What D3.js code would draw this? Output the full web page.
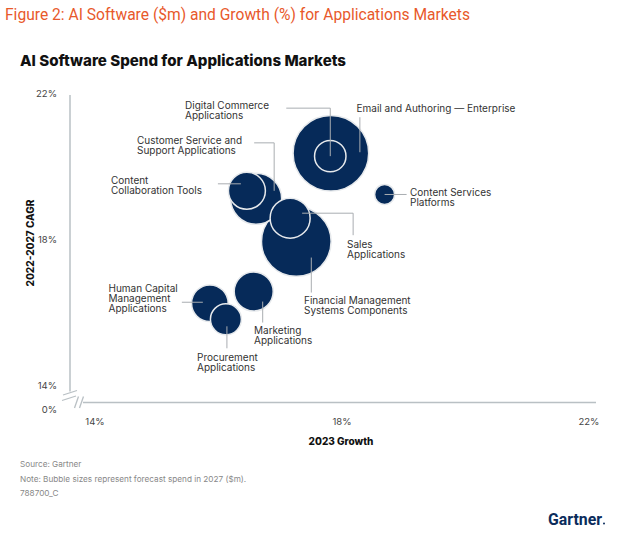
<!DOCTYPE html>
<html>
<head>
<meta charset="utf-8">
<script src="https://cdn.jsdelivr.net/npm/d3@7"></script>
<style>
  html, body { margin: 0; padding: 0; background: #fff; }
  svg { display: block; }
  text { font-family: Inter, "Noto Sans", sans-serif; }
</style>
</head>
<body>
<svg id="chart" width="620" height="536"></svg>
<script>
// ---- data ----
const categories = [
  "Email and Authoring — Enterprise",
  "Digital Commerce Applications",
  "Content Services Platforms",
  "Customer Service and Support Applications",
  "Content Collaboration Tools",
  "Sales Applications",
  "Financial Management Systems Components",
  "Marketing Applications",
  "Human Capital Management Applications",
  "Procurement Applications"
];
const growth2023 = [17.82, 17.81, 18.69, 16.61, 16.46, 17.16, 17.26, 16.57, 15.86, 16.12];
const cagr2022_2027 = [20.35, 20.27, 19.22, 19.10, 19.32, 18.57, 17.93, 16.56, 16.24, 15.80];
const spend2027 = [14000, 2420, 980, 6370, 3350, 3920, 11870, 3730, 3280, 2350];
const xTicks = [14, 18, 22];
const yTicks = [14, 18, 22];
const labelLines = [
  ["Email and Authoring — Enterprise"],
  ["Digital Commerce", "Applications"],
  ["Content Services", "Platforms"],
  ["Customer Service and", "Support Applications"],
  ["Content", "Collaboration Tools"],
  ["Sales", "Applications"],
  ["Financial Management", "Systems Components"],
  ["Marketing", "Applications"],
  ["Human Capital", "Management", "Applications"],
  ["Procurement", "Applications"]
];

// ---- annotation layout (leader offsets relative to bubble centre, label anchor) ----
const annot = [
  { path: [[29, -1], [29, -36]], tx: 356.5, ty: 111.5 },
  { path: [[0, 0], [0, -48], [-44, -48]], tx: 185, ty: 108.5 },
  { path: [[0, 0], [22, 0]], tx: 410, ty: 195.8 },
  { path: [[18, -8], [18, -56], [-2, -56]], tx: 137, ty: 143.5 },
  { path: [[-6, -7], [-29, -7]], tx: 111, ty: 183.5 },
  { path: [[12, -5], [63, -5], [63, 17]], tx: 347, ty: 247.5 },
  { path: [[15, 16], [15, 51]], tx: 304, ty: 304 },
  { path: [[9, 10], [9, 31]], tx: 254, ty: 333.5 },
  { path: [[-28, -1], [-7, -1]], tx: 108.5, ty: 292 },
  { path: [[1, 7], [1, 29]], tx: 197, ty: 361 }
];

const svg = d3.select("#chart");
const navy = "#062a59";
const axisGray = "#b9c0c4";

const x = d3.scaleLinear().domain([14, 22]).range([95, 589]);
const y = d3.scaleLinear().domain([14, 22]).range([385, 93]);
const r = d3.scaleSqrt().domain([0, 14000]).range([0, 37.8]);

// titles
svg.append("text").attr("x", 5).attr("y", 19.5)
  .attr("fill", "#e8592b").attr("font-size", 16)
  .attr("textLength", 465).attr("lengthAdjust", "spacingAndGlyphs")
  .style("font-family", "Roboto, sans-serif")
  .text("Figure 2: AI Software ($m) and Growth (%) for Applications Markets");

svg.append("text").attr("x", 20).attr("y", 66)
  .attr("fill", "#111").attr("font-size", 15).attr("font-weight", 800)
  .attr("textLength", 326).attr("lengthAdjust", "spacingAndGlyphs")
  .text("AI Software Spend for Applications Markets");

// axes lines
svg.append("line").attr("x1", 70).attr("x2", 70).attr("y1", 95).attr("y2", 391.5)
  .attr("stroke", axisGray).attr("stroke-width", 1.5);
svg.append("line").attr("x1", 83).attr("x2", 596).attr("y1", 402.5).attr("y2", 402.5)
  .attr("stroke", axisGray).attr("stroke-width", 1.5);
// break marks
const breaks = [
  [[63, 395], [77, 390.5]],
  [[62, 400.5], [76, 396]],
  [[74.5, 408], [78.5, 396.5]],
  [[79.5, 408], [83.5, 396.5]]
];
svg.selectAll(".brk").data(breaks).join("line").attr("class", "brk")
  .attr("x1", d => d[0][0]).attr("y1", d => d[0][1])
  .attr("x2", d => d[1][0]).attr("y2", d => d[1][1])
  .attr("stroke", axisGray).attr("stroke-width", 1.3);

// tick labels
svg.selectAll(".yt").data(yTicks).join("text").attr("class", "yt")
  .attr("x", 57).attr("y", d => y(d) + 3.5).attr("text-anchor", "end")
  .attr("font-size", 9.5).attr("fill", "#444").text(d => d + "%");
svg.append("text").attr("x", 57).attr("y", 412.5).attr("text-anchor", "end")
  .attr("font-size", 9.5).attr("fill", "#444").text("0%");
svg.selectAll(".xt").data(xTicks).join("text").attr("class", "xt")
  .attr("x", d => x(d)).attr("y", 425).attr("text-anchor", "middle")
  .attr("font-size", 9.5).attr("fill", "#444").text(d => d + "%");

// axis titles
svg.append("text").attr("x", 341).attr("y", 445).attr("text-anchor", "middle")
  .attr("font-size", 10).attr("font-weight", 800).attr("fill", "#111").text("2023 Growth");
svg.append("text").attr("transform", "translate(34,243) rotate(-90)")
  .attr("text-anchor", "middle")
  .attr("font-size", 10).attr("font-weight", 800).attr("fill", "#111").text("2022-2027 CAGR");

// bubbles
const data = categories.map((c, i) => ({
  name: c, gx: growth2023[i], gy: cagr2022_2027[i], s: spend2027[i],
  lines: labelLines[i], a: annot[i]
}));
const sorted = data.slice().sort((a, b) => b.s - a.s);
svg.selectAll(".bub").data(sorted).join("circle").attr("class", "bub")
  .attr("cx", d => x(d.gx)).attr("cy", d => y(d.gy)).attr("r", d => r(d.s))
  .attr("fill", navy).attr("stroke", "#e6e9ec").attr("stroke-width", 1.5);

// leader lines
const lineGen = d3.line();
svg.selectAll(".lead").data(data).join("path").attr("class", "lead")
  .attr("d", d => lineGen(d.a.path.map(p => [x(d.gx) + p[0], y(d.gy) + p[1]])))
  .attr("fill", "none").attr("stroke", "#a9adb1").attr("stroke-width", 1);

// labels
const lab = svg.selectAll(".lab").data(data).join("text").attr("class", "lab")
  .attr("font-size", 10).attr("fill", "#333");
lab.selectAll("tspan").data(d => d.lines.map((t, k) => ({ t, k, a: d.a })))
  .join("tspan").attr("x", d => d.a.tx).attr("y", d => d.a.ty + d.k * 10.2).text(d => d.t);

// footer
const foot = ["Source: Gartner", "Note: Bubble sizes represent forecast spend in 2027 ($m).", "788700_C"];
svg.selectAll(".ft").data(foot).join("text").attr("class", "ft")
  .attr("x", 20).attr("y", (d, i) => 467 + i * 14.5)
  .attr("font-size", 8.2).attr("fill", "#888").text(d => d);

svg.append("text").attr("x", 548).attr("y", 525).attr("font-size", 16.5).attr("font-weight", 700)
  .attr("fill", "#0b2c5c").attr("textLength", 54).attr("lengthAdjust", "spacingAndGlyphs")
  .style("font-family", "Roboto, sans-serif").text("Gartner");
svg.append("circle").attr("cx", 604).attr("cy", 523.5).attr("r", 1).attr("fill", "#0b2c5c");
</script>
</body>
</html>
